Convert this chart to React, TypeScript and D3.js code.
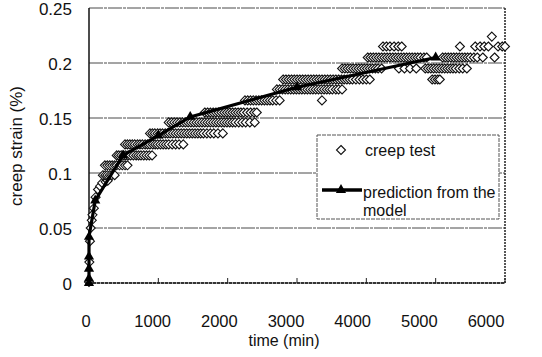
import React from "react";
import * as d3 from "d3";

// ---- data ----
const xTicks = [0, 1000, 2000, 3000, 4000, 5000, 6000];
const yTicks = [0, 0.05, 0.1, 0.15, 0.2, 0.25];
const yTickLabels = ["0", "0.05", "0.1", "0.15", "0.2", "0.25"];

// early creep-test readings (individual points)
const earlyTime = [0, 5, 14, 25, 40, 50, 70, 95, 130, 160, 190, 240, 270];
const earlyStrain = [0.001, 0.019, 0.038, 0.05, 0.057, 0.062, 0.068, 0.078, 0.085, 0.088, 0.091, 0.092, 0.093];

// creep-test readings grouped by recorded strain level
const creepLevels = [0.098, 0.107, 0.116, 0.126, 0.136, 0.146, 0.155, 0.166, 0.176, 0.185, 0.195, 0.205, 0.215, 0.224];
const creepTimes = [
  [200, 235, 265, 300, 330, 370],
  [230, 265, 300, 335, 370, 400, 440, 480, 520, 555],
  [400, 430, 465, 500, 530, 565, 600, 640, 680, 715, 750, 790, 830, 870, 910],
  [520, 555, 590, 625, 660, 700, 735, 770, 810, 845, 880, 920, 955, 990, 1030, 1070, 1110, 1150, 1200, 1250, 1300, 1360],
  [880, 915, 950, 990, 1025, 1060, 1100, 1135, 1170, 1210, 1250, 1290, 1330, 1370, 1410, 1450, 1490, 1530, 1570, 1610, 1650, 1700, 1750, 1800, 1860, 1930],
  [1150, 1190, 1230, 1270, 1310, 1350, 1390, 1430, 1470, 1510, 1550, 1590, 1630, 1670, 1710, 1750, 1790, 1830, 1870, 1910, 1950, 1990, 2030, 2070, 2110, 2160, 2210, 2260, 2320, 2390],
  [1670, 1710, 1750, 1790, 1830, 1870, 1910, 1950, 1990, 2030, 2070, 2110, 2150, 2190, 2230, 2280, 2330, 2380, 2420],
  [2250, 2290, 2330, 2370, 2410, 2450, 2490, 2530, 2570, 2610, 2650, 2700, 2750, 3360],
  [2710, 2750, 2790, 2830, 2870, 2910, 2950, 2990, 3030, 3070, 3110, 3150, 3190, 3230, 3270, 3310, 3350, 3390, 3430, 3470, 3510, 3560, 3600, 3650],
  [2800, 2840, 2880, 2920, 2960, 3000, 3040, 3080, 3120, 3160, 3200, 3240, 3280, 3320, 3360, 3400, 3440, 3480, 3520, 3560, 3600, 3640, 3680, 3720, 3760, 3800, 3850, 3900, 3950, 4000, 4050, 4950, 4990, 5030, 5060],
  [3650, 3690, 3730, 3770, 3810, 3850, 3890, 3930, 3970, 4010, 4050, 4090, 4130, 4170, 4220, 4470, 4550, 4630, 4720, 4850, 4890, 4930, 4970, 5010, 5050, 5090, 5130, 5170, 5210, 5250, 5290, 5340, 5390, 5450],
  [4020, 4060, 4100, 4140, 4180, 4220, 4260, 4300, 4340, 4380, 4420, 4460, 4500, 4540, 4580, 4620, 4660, 4700, 4740, 4780, 4830, 4870, 5100, 5140, 5180, 5220, 5260, 5300, 5340, 5380, 5420, 5460, 5500, 5550, 5600, 5680, 5850],
  [4240, 4290, 4340, 4400, 4460, 4510, 5350, 5570, 5640, 5700, 5760, 5900, 5960, 6000],
  [5810],
];

// model prediction
const predTime = [0, 0, 0, 0, 0, 90, 490, 1000, 1460, 3000, 5000];
const predStrain = [0, 0.004, 0.013, 0.024, 0.042, 0.075, 0.116, 0.134, 0.151, 0.178, 0.205];

const seriesNames = ["creep test", "prediction from the", "model"];
const xTitle = "time (min)";
const yTitle = "creep strain (%)";

// ---- layout ----
const W = 542;
const H = 357;
const L = 89, R = 505, T = 8, B = 283;
const FONT = "'Liberation Sans', Arial, sans-serif";

const diamond = "M0,-4.5L4.5,0L0,4.5L-4.5,0Z";

export default function App() {
  const x = d3.scaleLinear().domain([0, 6000]).range([L, R]);
  const y = d3.scaleLinear().domain([0, 0.25]).range([B, T]);
  const xLabel = d3.scaleLinear().domain([0, 6000]).range([86, 486]);

  const creep: { t: number; s: number }[] = [];
  earlyTime.forEach((t, i) => creep.push({ t, s: earlyStrain[i] }));
  creepLevels.forEach((s, i) => creepTimes[i].forEach((t) => creep.push({ t, s })));

  const pred = predTime.map((t, i) => ({ t, s: predStrain[i] }));
  const line = d3
    .line<{ t: number; s: number }>()
    .x((d) => x(d.t))
    .y((d) => y(d.s));
  const tri = d3.symbol().type(d3.symbolTriangle).size(45)() as string;

  return (
    <svg width={W} height={H} style={{ position: "absolute", left: 0, top: 0, background: "#fff" }}>
      <rect x={0} y={0} width={W} height={H} fill="#fff" />
      {/* gridlines */}
      {yTicks.map((v) => (
        <line key={"g" + v} x1={L} x2={R} y1={y(v)} y2={y(v)} stroke="#4a4a4a" strokeWidth={1} strokeDasharray={v === 0 ? undefined : "14,1,3,1"} />
      ))}
      {/* axes */}
      <line x1={L} x2={L} y1={T} y2={B} stroke="#111" strokeWidth={1.5} />
      <line x1={R} x2={R} y1={T} y2={B} stroke="#222" strokeWidth={1.5} strokeDasharray="2,1" />
      <line x1={L} x2={R} y1={B} y2={B} stroke="#111" strokeWidth={1.5} strokeDasharray="3,1" />
      {xTicks.map((v) => (
        <line key={"t" + v} x1={x(v)} x2={x(v)} y1={B} y2={B - 5} stroke="#222" strokeWidth={1} />
      ))}
      {/* tick labels */}
      {yTicks.map((v, i) => (
        <text key={"yl" + v} x={72} y={y(v) + 1.5} dy="0.35em" textAnchor="end" fontFamily={FONT} fontSize={17} fill="#111">
          {yTickLabels[i]}
        </text>
      ))}
      {xTicks.map((v) => (
        <text key={"xl" + v} x={xLabel(v)} y={321} dy="0.35em" textAnchor="middle" fontFamily={FONT} fontSize={16.5} fill="#111">
          {v}
        </text>
      ))}
      <text x={284} y={346} textAnchor="middle" fontFamily={FONT} fontSize={16} fill="#111">
        {xTitle}
      </text>
      <text transform="translate(22,146) rotate(-90)" textAnchor="middle" fontFamily={FONT} fontSize={17} fill="#111">
        {yTitle}
      </text>
      {/* creep test points */}
      <g>
        {creep.map((d, i) => (
          <path key={"c" + i} d={diamond} transform={`translate(${x(d.t)},${y(d.s)})`} fill="#fff" stroke="#111" strokeWidth={1.1} />
        ))}
      </g>
      {/* prediction */}
      <path d={line(pred) as string} fill="none" stroke="#000" strokeWidth={3.2} />
      {pred.map((d, i) => (
        <path key={"p" + i} d={tri} transform={`translate(${x(d.t)},${y(d.s)})`} fill="#000" />
      ))}
      {/* legend */}
      <rect x={317} y={135} width={182} height={84} fill="#fff" stroke="#555" strokeWidth={1} strokeDasharray="4,1" />
      <path d={diamond} transform="translate(341,150)" fill="#fff" stroke="#111" strokeWidth={1.1} />
      <text x={365} y={156} fontFamily={FONT} fontSize={16} fill="#111">
        {seriesNames[0]}
      </text>
      <line x1={322} x2={362} y1={190} y2={190} stroke="#000" strokeWidth={3.5} />
      <path d={tri} transform="translate(341,190)" fill="#000" />
      <text x={363} y={198} fontFamily={FONT} fontSize={16} fill="#111">
        {seriesNames[1]}
      </text>
      <text x={363} y={216} fontFamily={FONT} fontSize={16} fill="#111">
        {seriesNames[2]}
      </text>
    </svg>
  );
}
